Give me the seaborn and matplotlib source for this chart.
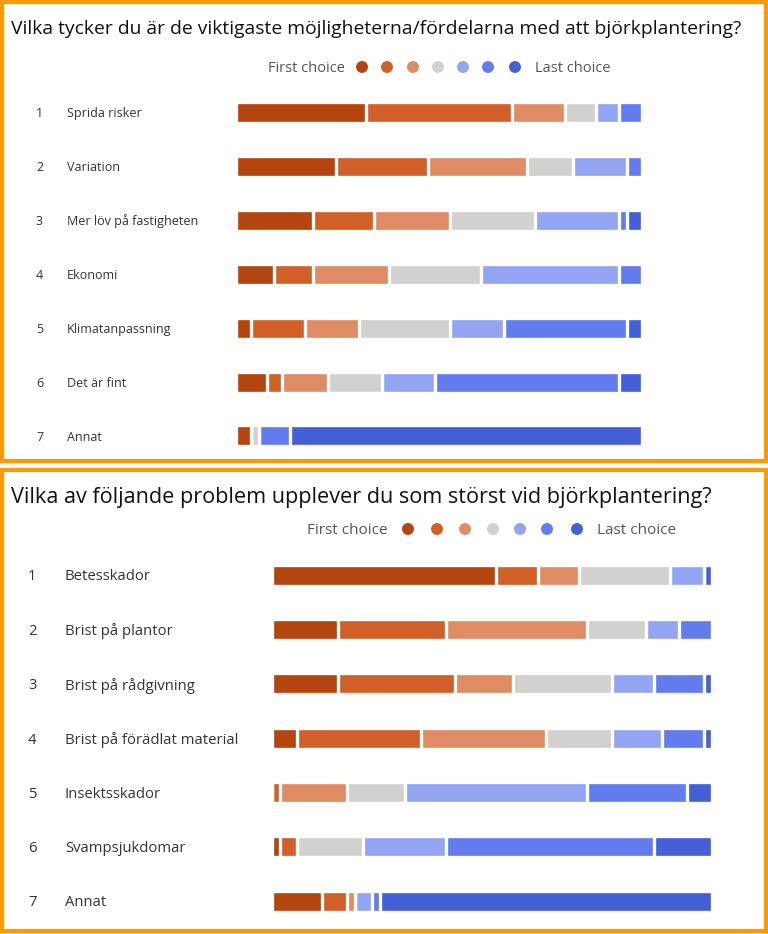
import numpy as np
import seaborn as sns
import matplotlib.pyplot as plt
from matplotlib.patches import Rectangle, Ellipse
from matplotlib.transforms import blended_transform_factory

# ranking counts, columns = 1st choice ... 7th (last) choice
title_1 = "Vilka tycker du är de viktigaste möjligheterna/fördelarna med att björkplantering?"
labels_1 = ["Sprida risker", "Variation", "Mer löv på fastigheten", "Ekonomi",
            "Klimatanpassning", "Det är fint", "Annat"]
counts_1 = [
    [17, 19, 7, 4, 3, 3, 0],
    [13, 12, 13, 6, 7, 2, 0],
    [10, 8, 10, 11, 11, 1, 2],
    [5, 5, 10, 12, 18, 3, 0],
    [2, 7, 7, 12, 7, 16, 2],
    [4, 2, 6, 7, 7, 24, 3],
    [2, 0, 0, 1, 0, 4, 46],
]

title_2 = "Vilka av följande problem upplever du som störst vid björkplantering?"
labels_2 = ["Betesskador", "Brist på plantor", "Brist på rådgivning",
            "Brist på förädlat material", "Insektsskador", "Svampsjukdomar", "Annat"]
counts_2 = [
    [27, 5, 5, 11, 4, 0, 1],
    [8, 13, 17, 7, 4, 4, 0],
    [8, 14, 7, 12, 5, 6, 1],
    [3, 15, 15, 8, 6, 5, 1],
    [0, 1, 8, 7, 22, 12, 3],
    [1, 2, 0, 8, 10, 25, 7],
    [6, 3, 1, 0, 2, 1, 40],
]

legend_first = "First choice"
legend_last = "Last choice"
colors = ["#B5450F", "#D06028", "#DF8C64", "#D2D1CF", "#93A5F2", "#627CEE", "#4560D6"]

W, H = 768, 934
fig = plt.figure(figsize=(W / 100, H / 100), dpi=100)
sns.set_style("white")
plt.rcParams['font.family'] = ['Open Sans', 'DejaVu Sans']


def fx(px):
    return px / W


def fy(py):
    return 1 - py / H


def draw_panel(title, labels, counts, box, title_y, title_size, leg, leg_size, bar_x,
               rows, num_x, lab_x, lab_size):
    # orange frame
    x0, y0, x1, y1 = box
    fig.add_artist(Rectangle((fx(x0), fy(y1)), fx(x1 - x0), (y1 - y0) / H,
                             transform=fig.transFigure, fill=False,
                             edgecolor="#FF9A00", linewidth=3))
    fig.text(fx(11), fy(title_y), title, fontsize=title_size, color="#111111",
             va="center_baseline", ha="left")

    # legend row
    first_x, dots, last_x, leg_y = leg
    fig.text(fx(first_x), fy(leg_y), legend_first, fontsize=leg_size, color="#555555",
             va="center_baseline", ha="left")
    fig.text(fx(last_x), fy(leg_y), legend_last, fontsize=leg_size, color="#555555",
             va="center_baseline", ha="left")
    for dx, c in zip(dots, colors):
        fig.add_artist(Ellipse((fx(dx), fy(leg_y)), 10.5 / W, 10.5 / H,
                               transform=fig.transFigure, color=c))

    top, bottom = rows
    step = (bottom - top) / 6
    ax = fig.add_axes([fx(bar_x[0]), fy(bottom + step / 2),
                       fx(bar_x[1] - bar_x[0]), (bottom - top + step) / H])
    data = np.array(counts)
    cum = data.cumsum(axis=1)
    # draw cumulative bars from last choice down to first so they stack
    for k in range(6, -1, -1):
        sns.barplot(x=cum[:, k], y=labels, orient="h", color=colors[k], ax=ax,
                    width=21 / step, edgecolor="white", linewidth=2.4, saturation=1)
    ax.set_xlim(0, data.sum(axis=1).max())
    ax.set_ylim(6.5, -0.5)
    ax.axis("off")

    tr = blended_transform_factory(fig.transFigure, ax.transData)
    for i, lab in enumerate(labels):
        ax.text(fx(num_x), i, str(i + 1), transform=tr, fontsize=lab_size,
                color="#333333", va="center_baseline", ha="left")
        ax.text(fx(lab_x), i, lab, transform=tr, fontsize=lab_size,
                color="#333333", va="center_baseline", ha="left")


draw_panel(title_1, labels_1, counts_1, (2, 2, 766, 461), 27, 13.9,
           (268, [362, 387, 413, 438, 463, 488, 515], 535, 67), 10.5,
           (236, 642), (112, 436), 36, 67, 9.0)
draw_panel(title_2, labels_2, counts_2, (2, 470, 766, 931), 495, 15.6,
           (307, [408, 437, 465, 493, 520, 547, 577], 597, 529), 11,
           (272, 712), (575, 901), 28, 65, 10.7)

plt.savefig("out.png", dpi=100)
